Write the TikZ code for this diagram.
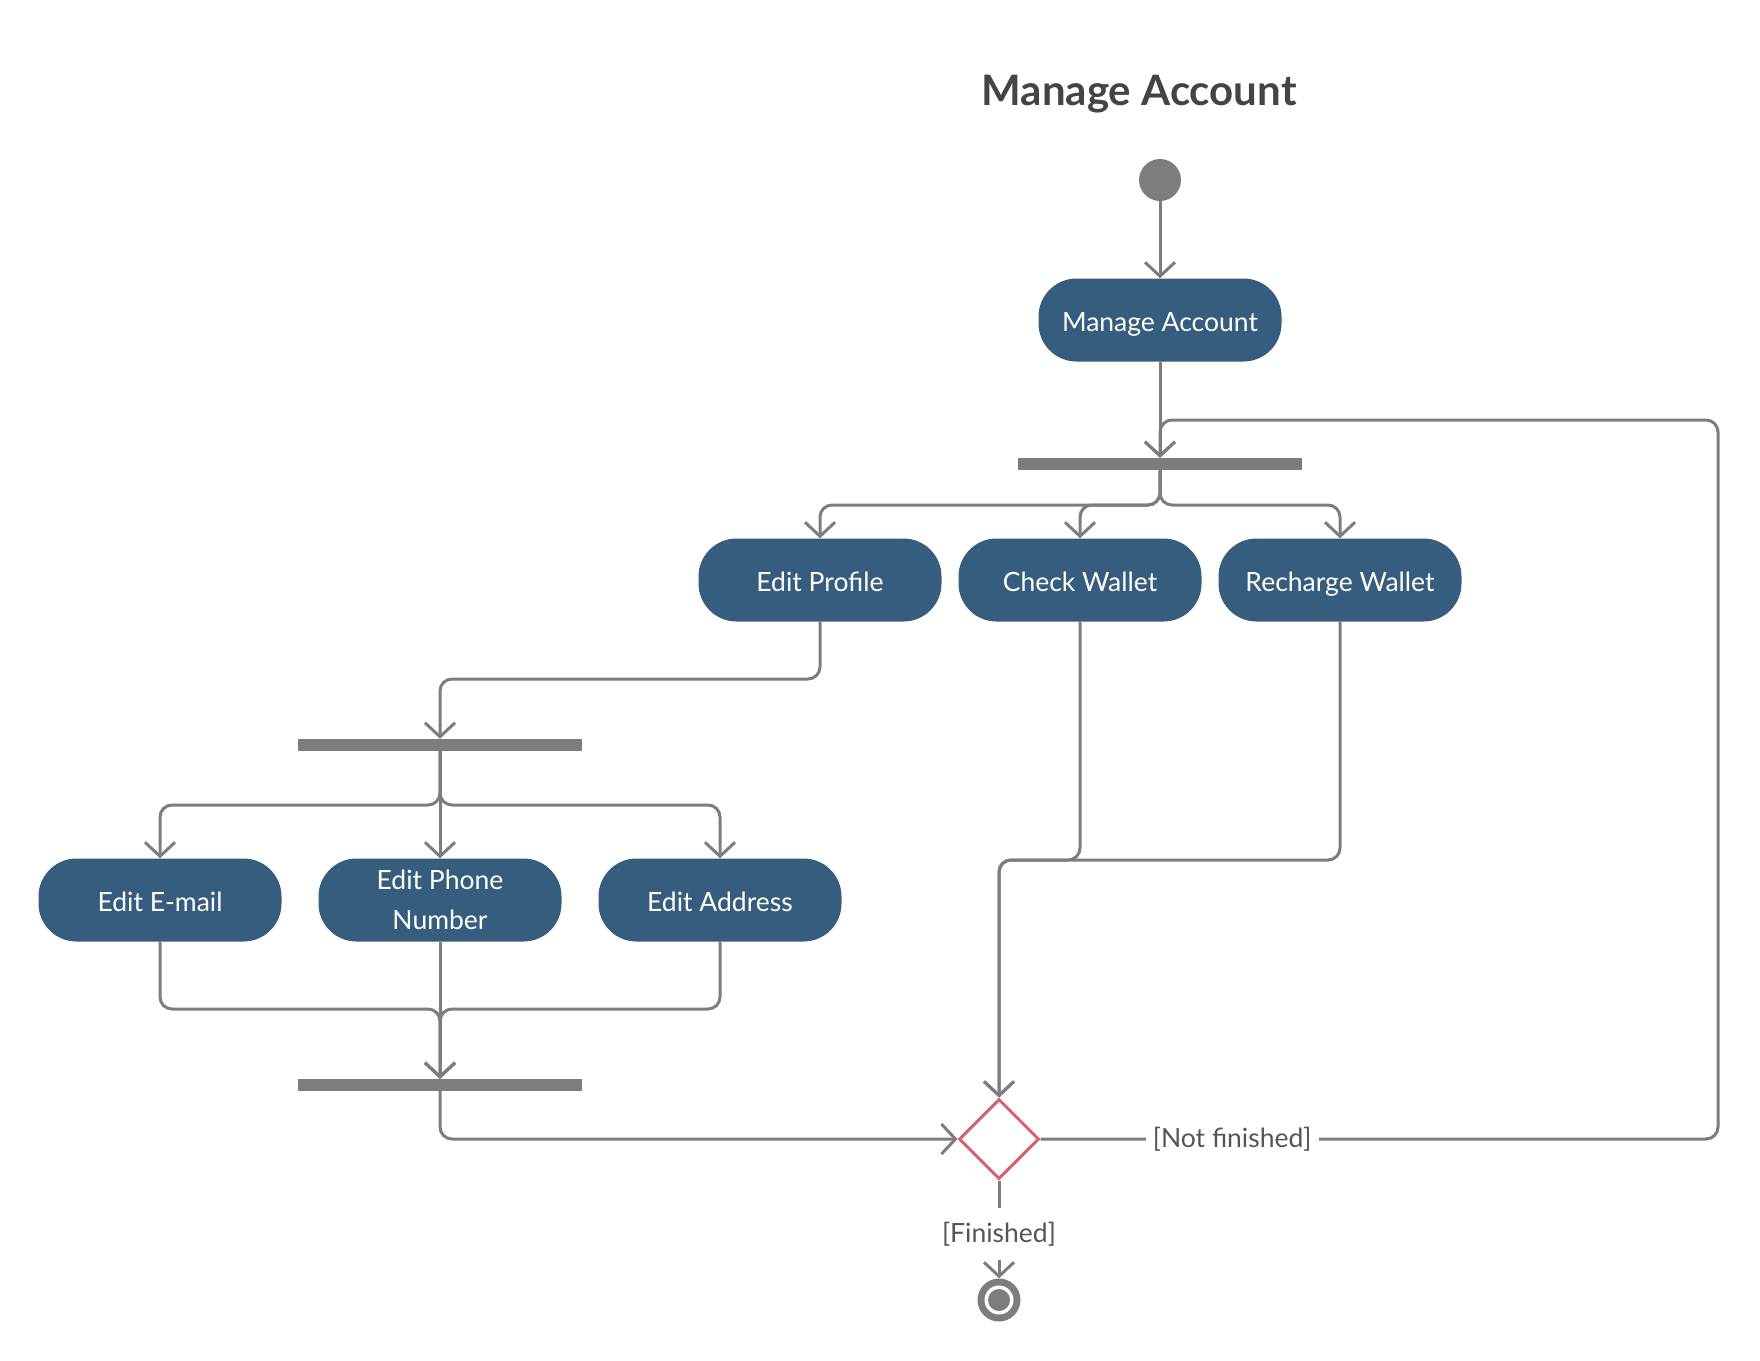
\documentclass[tikz,border=0pt]{standalone}
\usepackage{fontspec}
\setmainfont{Lato}
\usetikzlibrary{arrows.meta,shapes.geometric}
\definecolor{lineg}{RGB}{125,125,125}
\definecolor{nodeblue}{RGB}{54,93,126}
\definecolor{diared}{RGB}{212,98,112}
\definecolor{titleg}{RGB}{68,68,68}
\definecolor{labelg}{RGB}{85,85,85}
\begin{document}
\begin{tikzpicture}[x=1pt,y=-1pt,
 act/.style={fill=nodeblue, rounded corners=38pt, minimum width=243pt, minimum height=83pt, text=white, font=\fontsize{26.5}{40}\selectfont, align=center, inner sep=0pt},
 act1/.style={act, text height=28pt, text depth=6pt},
 bar/.style={fill=lineg, minimum width=284pt, minimum height=12pt, inner sep=0pt},
 conn/.style={draw=lineg, line width=3pt, rounded corners=12pt},
 arr/.style={conn, -{Straight Barb[length=14pt,width=30pt]}},
 guard/.style={fill=white, text=labelg, font=\fontsize{26.5}{30}\selectfont, inner ysep=14pt, inner xsep=7pt, rounded corners=0pt}
]
\useasboundingbox (0,0) rectangle (1760,1360);

\node[font=\bfseries\fontsize{42}{50}\selectfont, text=titleg, anchor=base] (title) at (1139,105) {Manage Account};

\node[circle, fill=lineg, minimum size=42pt, inner sep=0pt] (start) at (1160,180) {};
\node[act1] (ma) at (1160,320) {Manage Account};
\node[bar] (b1) at (1160,464) {};
\node[act1] (ep) at (820,580) {Edit Profile};
\node[act1] (cw) at (1080,580) {Check Wallet};
\node[act1] (rw) at (1340,580) {Recharge Wallet};
\node[bar] (b2) at (440,745) {};
\node[act1] (em) at (160,900) {Edit E-mail};
\node[act] (ph) at (440,900) {Edit Phone\\Number};
\node[act1] (ad) at (720,900) {Edit Address};
\node[bar] (b3) at (440,1085) {};
\node[diamond, draw=diared, line width=3pt, minimum width=80pt, minimum height=80pt, inner sep=0pt, aspect=1] (dia) at (999,1139) {};
\node[circle, fill=lineg, minimum size=43pt, inner sep=0pt] (fin) at (999,1300) {};
\fill[white] (fin.center) circle[radius=14.5pt];
\fill[lineg] (fin.center) circle[radius=11pt];

\draw[arr] (start) -- (ma);
\draw[arr] (ma) -- (b1);
\draw[arr] (dia.east) -- node[guard, pos=0.283]{[Not finished]} (1718,1139) -- (1718,420) -- (1160,420) -- (b1.north);

\draw[arr] (b1.south) -- (1160,505) -- (820,505) -- (ep.north);
\draw[arr] (b1.south) -- (1160,505) -- (1080,505) -- (cw.north);
\draw[arr] (b1.south) -- (1160,505) -- (1340,505) -- (rw.north);

\draw[arr] (ep.south) -- (820,679) -- (440,679) -- (b2.north);

\draw[arr] (b2.south) -- (440,805) -- (160,805) -- (em.north);
\draw[arr] (b2.south) -- (ph.north);
\draw[arr] (b2.south) -- (440,805) -- (720,805) -- (ad.north);

\draw[arr] (em.south) -- (160,1009) -- (440,1009) -- (b3.north);
\draw[arr] (ph.south) -- (b3.north);
\draw[arr] (ad.south) -- (720,1009) -- (440,1009) -- (b3.north);

\draw[arr] (b3.south) -- (440,1139) -- (dia.west);

\draw[arr] (cw.south) -- (1080,860) -- (999,860) -- (dia.north);
\draw[arr] (rw.south) -- (1340,860) -- (999,860) -- (dia.north);

\draw[arr] (dia.south) -- node[guard, pos=0.55]{[Finished]} (fin.north);
\end{tikzpicture}
\end{document}
